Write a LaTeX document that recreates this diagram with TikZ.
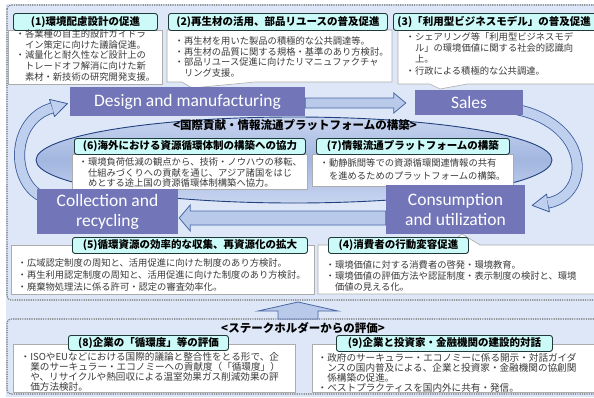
\documentclass[tikz,border=0pt]{standalone}
\usepackage{fontspec}
\setmainfont{Carlito}
\newfontfamily\jp{Noto Sans CJK JP}
\usetikzlibrary{calc}
\definecolor{bgblue}{HTML}{DDE7F7}
\definecolor{framegray}{HTML}{6E6E6E}
\definecolor{procfill}{HTML}{7276B9}
\definecolor{tagfill}{HTML}{CCFAF8}
\definecolor{tagline}{HTML}{203838}
\definecolor{bodytext}{HTML}{3A3A3A}
\definecolor{ringfill}{HTML}{BFCFEE}
\definecolor{ringline}{HTML}{3B5A9A}
\definecolor{ellline}{HTML}{22407E}
\definecolor{ellmid}{HTML}{A2B6DF}
\definecolor{elllight}{HTML}{C8D5F0}
\definecolor{arrowfill}{HTML}{B8C9E9}
\definecolor{arrowline}{HTML}{4A68A5}
\tikzset{
  dotframe/.style={draw=framegray, line width=1.1pt, dash pattern=on 1.2pt off 1.1pt, rounded corners=4pt},
  tagbox/.style={draw=tagline, fill=tagfill, rounded corners=2.5pt, line width=0.9pt, anchor=north west, inner sep=0pt,
    text=black, font=\jp\bfseries\fontsize{10.5}{12}\selectfont},
  wbox/.style={draw=gray!65, fill=white, line width=0.6pt},
  body/.style={anchor=north west, inner sep=0pt, align=left, text=bodytext, font=\jp\fontsize{9.3}{10.7}\selectfont},
  proc/.style={fill=procfill, text=white, inner sep=0pt, align=center, font=\fontsize{17.5}{20}\selectfont},
  barrow/.style={fill=arrowfill, draw=arrowline, line width=0.8pt, line join=miter},
  headtext/.style={inner sep=0pt, text=black, font=\jp\bfseries\fontsize{11.5}{13}\selectfont}
}
\begin{document}
\begin{tikzpicture}[x=1pt,y=-1pt]
\useasboundingbox (0,0) rectangle (594,397);
\fill[white] (0,0) rectangle (594,397);
\fill[bgblue] (6,4) rectangle (594,397);
% frames
\draw[dotframe] (7,5) rectangle (604,300);
\draw[dotframe] (7,319) rectangle (604,394);

% central ellipse
\draw[ellline, line width=0.9pt, top color=elllight, bottom color=elllight, middle color=ellmid]
  (294,160) ellipse [x radius=258pt, y radius=43pt];

% left cycle arc
\draw[line width=11pt, ringline] (45,198) .. controls (10,185) and (10,120) .. (52,108);
\draw[fill=ringfill, draw=ringline, line width=0.8pt, line join=round] (54.5,116.6) -- (67.4,103.6) -- (49.5,99.4) -- cycle;
\draw[line width=9.4pt, ringfill] (45,198) .. controls (10,185) and (10,120) .. (52,108);
% right cycle arc
\draw[line width=11pt, ringline] (508,108) .. controls (592,120) and (592,195) .. (548,203);
\draw[fill=ringfill, draw=ringline, line width=0.8pt, line join=round] (549.4,211.9) -- (532.2,205.4) -- (546.6,194.1) -- cycle;
\draw[line width=9.4pt, ringfill] (508,108) .. controls (592,120) and (592,195) .. (548,203);

% platform heading
\node[headtext] (plat) at (295,125) {<国際貢献・情報流通プラットフォームの構築>};

% boxes (6) and (7)
\draw[wbox] (72,154) rectangle (307,189);
\node[tagbox, minimum width=231pt, minimum height=16pt] (t6) at (74,138) {(6)海外における資源循環体制の構築への協力};
\node[body] (b6) at (78.5,157.5) {・環境負荷低減の観点から、技術・ノウハウの移転、\\　仕組みづくりへの貢献を通じ、アジア諸国をはじ\\　めとする途上国の資源循環体制構築へ協力。};
\draw[wbox] (312,154) rectangle (513,186);
\node[tagbox, minimum width=193pt, minimum height=16pt] (t7) at (316,138) {(7)情報流通プラットフォームの構築};
\node[body, font=\jp\fontsize{9.3}{12.5}\selectfont] (b7) at (319.5,158.5) {・動静脈間等での資源循環関連情報の共有\\　を進めるためのプラットフォームの構築。};

% top boxes (1)-(3)
\draw[wbox] (8,30) rectangle (162,84);
\node[tagbox, minimum width=144pt, minimum height=17pt] (t1) at (13,13) {(1)環境配慮設計の促進};
\node[body] (b1) at (15.5,29.5) {・各業種の自主的設計ガイドラ\\　イン策定に向けた議論促進。\\・減量化と耐久性など設計上の\\　トレードオフ解消に向けた新\\　素材・新技術の研究開発支援。};

\draw[wbox] (167,30) -- (392,30) -- (392,82) -- (255,82) -- (192,88) -- (182,82) -- (167,82) -- cycle;
\node[tagbox, minimum width=219pt, minimum height=17pt] (t2) at (168,13) {(2)再生材の活用、部品リユースの普及促進};
\node[body] (b2) at (174.5,36.5) {・再生材を用いた製品の積極的な公共調達等。\\・再生材の品質に関する規格・基準のあり方検討。\\・部品リユース促進に向けたリマニュファクチャ\\　リング支援。};

\draw[wbox] (398,27) -- (604,27) -- (604,84) -- (467,84) -- (440,89) -- (430,84) -- (398,84) -- cycle;
\node[tagbox, minimum height=17pt, text width=199pt, align=left, inner xsep=4pt] (t3) at (393,13) {(3)「利用型ビジネスモデル」の普及促進};
\node[body, font=\jp\fontsize{9.3}{11.3}\selectfont] (b3) at (405.5,32) {・シェアリング等「利用型ビジネスモデ\\　ル」の環境価値に関する社会的認識向\\　上。\\・行政による積極的な公共調達。};

% process boxes
\node[proc, minimum width=235pt, minimum height=29pt] (dm) at (187.5,101.5) {Design and manufacturing};
\node[proc, minimum width=108pt, minimum height=25pt] (sales) at (469,102.5) {Sales};
\node[proc, minimum width=141pt, minimum height=45pt] (coll) at (107.5,211.5) {Collection and\\recycling};
\node[proc, minimum width=139pt, minimum height=49pt] (cons) at (455.5,209.5) {Consumption\\and utilization};

% straight block arrows
\draw[barrow] ($(dm.east)+(0,-3.5)$) -- ($(sales.west)+(-21,-4.5)$) -- ($(sales.west)+(-21,-9.5)$)
  -- ($(sales.west)+(-9,0.5)$) -- ($(sales.west)+(-21,10.5)$) -- ($(sales.west)+(-21,5.5)$)
  -- ($(dm.east)+(0,6.5)$) -- cycle;
\draw[barrow] ($(cons.west)+(0,1.5)$) -- ($(coll.east)+(12,-0.5)$) -- ($(coll.east)+(12,-6.5)$)
  -- ($(coll.east)+(1,6.5)$) -- ($(coll.east)+(12,19.5)$) -- ($(coll.east)+(12,13.5)$)
  -- ($(cons.west)+(0,15.5)$) -- cycle;

% boxes (5) and (4)
\draw[wbox] (11,245) rectangle (314,294);
\node[tagbox, minimum width=235pt, minimum height=16pt] (t5) at (72,237) {(5)循環資源の効率的な収集、再資源化の拡大};
\node[body, font=\jp\fontsize{9.3}{11.8}\selectfont] (b5) at (17.5,258.5) {・広域認定制度の周知と、活用促進に向けた制度のあり方検討。\\・再生利用認定制度の周知と、活用促進に向けた制度のあり方検討。\\・廃棄物処理法に係る許可・認定の審査効率化。};

\draw[wbox] (318,245) -- (448,245) -- (462,234) -- (480,245) -- (604,245) -- (604,294) -- (318,294) -- cycle;
\node[tagbox, minimum width=140pt, minimum height=16pt] (t4) at (328,237) {(4)消費者の行動変容促進};
\node[body, font=\jp\fontsize{9.3}{11}\selectfont] (b4) at (325.5,260.5) {・環境価値に対する消費者の啓発・環境教育。\\・環境価値の評価方法や認証制度・表示制度の検討と、環境\\　価値の見える化。};

% up arrow between frames
\draw[barrow] (258,311) -- (298,302) -- (338,311) -- (318,311) -- (318,319) -- (278,319) -- (278,311) -- cycle;

% stakeholder section
\node[headtext] (stake) at (303,328) {<ステークホルダーからの評価>};
\draw[wbox] (13,344) rectangle (295,392);
\node[tagbox, minimum width=160pt, minimum height=15pt] (t8) at (68,335) {(8)企業の「循環度」等の評価};
\node[body, font=\jp\fontsize{9.6}{8.7}\selectfont] (b8) at (20.5,352.5) {・ISOやEUなどにおける国際的議論と整合性をとる形で、企\\　業のサーキュラー・エコノミーへの貢献度（「循環度」）\\　や、リサイクルや熱回収による温室効果ガス削減効果の評\\　価方法検討。};
\draw[wbox] (312,344) rectangle (604,392);
\node[tagbox, minimum width=216pt, minimum height=16pt] (t9) at (336,335) {(9)企業と投資家・金融機関の建設的対話};
\node[body, font=\jp\fontsize{9.6}{8.7}\selectfont] (b9) at (317.5,353.5) {・政府のサーキュラー・エコノミーに係る開示・対話ガイダ\\　ンスの国内普及による、企業と投資家・金融機関の協創関\\　係構築の促進。\\・ベストプラクティスを国内外に共有・発信。};
\end{tikzpicture}
\end{document}
